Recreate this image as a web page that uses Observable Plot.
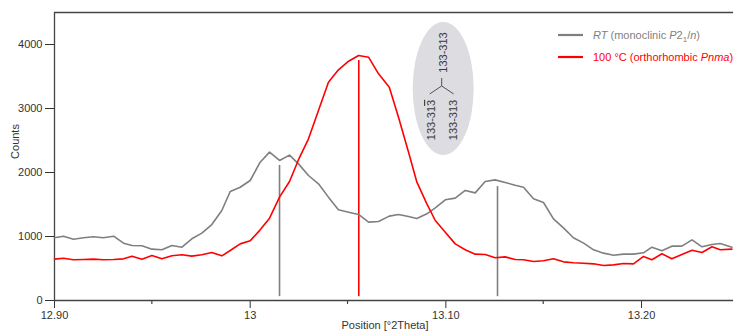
<!DOCTYPE html>
<html>
<head>
<meta charset="utf-8">
<script src="https://cdn.jsdelivr.net/npm/d3@7"></script>
<script src="https://cdn.jsdelivr.net/npm/@observablehq/plot@0.6"></script>
<style>
  html, body { margin: 0; padding: 0; background: #fff; }
</style>
</head>
<body>
<div id="chart"></div>
<script>
// Scan positions, °2θ
const position = [
  12.9000, 12.9046, 12.9097, 12.9148, 12.9199, 12.9250, 12.9302, 12.9353, 12.9396, 12.9447,
  12.9498, 12.9549, 12.9600, 12.9651, 12.9702, 12.9753, 12.9804, 12.9855, 12.9898, 12.9949,
  13.0000, 13.0051, 13.0099, 13.0150, 13.0201, 13.0247, 13.0298, 13.0349, 13.0400, 13.0451,
  13.0503, 13.0554, 13.0605, 13.0656, 13.0711, 13.0758, 13.0809, 13.0852, 13.0903, 13.0946,
  13.0997, 13.1048, 13.1099, 13.1150, 13.1201, 13.1252, 13.1303, 13.1354, 13.1397, 13.1448,
  13.1499, 13.1550, 13.1601, 13.1652, 13.1704, 13.1755, 13.1806, 13.1857, 13.1908, 13.1959,
  13.2010, 13.2053, 13.2104, 13.2155, 13.2206, 13.2258, 13.2309, 13.2360, 13.2402, 13.2462
];

// Counts at room temperature (monoclinic)
const countsRT = [
  980, 1005, 958, 980, 995, 980, 1005, 895, 860, 855,
  802, 792, 860, 833, 964, 1052, 1187, 1406, 1703, 1770,
  1875, 2161, 2318, 2188, 2271, 2135, 1953, 1823, 1615, 1417,
  1380, 1344, 1224, 1234, 1318, 1344, 1313, 1281, 1354, 1448,
  1573, 1599, 1719, 1682, 1859, 1885, 1844, 1802, 1771, 1589,
  1531, 1276, 1135, 980, 896, 792, 740, 708, 724, 724,
  745, 833, 776, 849, 849, 948, 839, 875, 891, 833
];

// Counts at 100 °C (orthorhombic)
const counts100 = [
  646, 661, 636, 641, 646, 636, 641, 651, 693, 646,
  703, 651, 698, 714, 693, 714, 750, 698, 781, 885,
  932, 1104, 1286, 1615, 1859, 2200, 2526, 2969, 3411, 3604,
  3739, 3828, 3802, 3542, 3333, 2864, 2320, 1849, 1510, 1250,
  1068, 885, 792, 724, 719, 667, 682, 641, 636, 609,
  620, 651, 604, 589, 583, 573, 547, 557, 578, 573,
  688, 636, 730, 651, 719, 786, 750, 839, 792, 802
];

// Reference reflection positions and heights
const stickRTPos = [13.0150, 13.1264];
const stickRTTop = [2110, 1780];
const stick100Pos = [13.0555];
const stick100Top = [3750];
const stickBase = 60;

// Reflection labels in the annotation
const reflectionTop = "133-313";
const reflectionLeft = ["133-31", "3"]; // last digit carries an overbar
const reflectionRight = "133-313";

// Axes
const yTicks = [0, 1000, 2000, 3000, 4000];
const xTicks = [12.90, 13.00, 13.10, 13.20];
const xTickLabels = ["12.90", "13", "13.10", "13.20"];
const xMinorTicks = [12.95, 13.05, 13.15];
const xLabel = "Position [°2Theta]";
const yLabel = "Counts";

// Legend entries: [text, style] parts
const legendRT = [["RT", "i"], [" (monoclinic ", ""], ["P", "i"], ["2", ""], ["1", "sub"], ["/", ""], ["n", "i"], [")", ""]];
const legend100 = [["100 °C (orthorhombic ", ""], ["Pnma", "i"], [")", ""]];

const gray = "#7f7f7f";
const red = "#ff0000";
const axisColor = "#444";

const rows = position.map((p, i) => ({p, rt: countsRT[i], ht: counts100[i]}));
const sticksRT = stickRTPos.map((p, i) => ({p, top: stickRTTop[i]}));
const sticks100 = stick100Pos.map((p, i) => ({p, top: stick100Top[i]}));

function minorTicks(index, {x, y}) {
  const g = d3.create("svg:g").attr("stroke", axisColor).attr("stroke-width", 1.2);
  for (const t of xMinorTicks) {
    g.append("line").attr("x1", x(t)).attr("x2", x(t)).attr("y1", y(0)).attr("y2", y(0) + 4);
  }
  return g.node();
}

function addParts(text, parts) {
  let shifted = 0;
  for (const [s, kind] of parts) {
    const ts = text.append("tspan").text(s);
    if (kind === "i") ts.attr("font-style", "italic");
    if (kind === "sub") {
      ts.attr("font-size", "8px").attr("dy", 3);
      shifted = 3;
    } else if (shifted) {
      ts.attr("dy", -shifted);
      shifted = 0;
    }
  }
}

function legend() {
  const g = d3.create("svg:g")
    .attr("font-family", "'Liberation Sans', Arial, sans-serif")
    .attr("font-size", "11px")
    .attr("text-anchor", "start");
  const entries = [[legendRT, gray, 35], [legend100, red, 57]];
  for (const [parts, color, yy] of entries) {
    g.append("line").attr("x1", 558).attr("x2", 583).attr("y1", yy).attr("y2", yy)
      .attr("stroke", color).attr("stroke-width", 2.2);
    const t = g.append("text").attr("x", 593).attr("y", yy + 4).attr("fill", color);
    addParts(t, parts);
  }
  return g.node();
}

function reflectionNote(index, {x, y}) {
  const cx = x(13.0989), cy = y(3305);
  const g = d3.create("svg:g")
    .attr("font-family", "'Liberation Sans', Arial, sans-serif")
    .attr("font-size", "11px");
  g.append("ellipse").attr("cx", cx).attr("cy", cy).attr("rx", 30.5).attr("ry", 66.5)
    .attr("fill", "#dcdce1");
  const lines = g.append("g").attr("stroke", "#555").attr("stroke-width", 1).attr("fill", "none");
  lines.append("path").attr("d",
    `M${cx - 1.5},${cy - 10.5}V${cy - 2.5}M${cx - 13.5},${cy + 5.5}L${cx - 1.5},${cy - 2.5}L${cx + 10.5},${cy + 5.5}`);
  const label = (dx, dy) => g.append("text")
    .attr("transform", `translate(${cx + dx},${cy + dy}) rotate(-90)`)
    .attr("text-anchor", "middle").attr("dy", "0.35em").attr("fill", "#3a3a3a");
  label(0, -36).text(reflectionTop);
  const left = label(-12, 31.5);
  left.append("tspan").text(reflectionLeft[0]);
  left.append("tspan").style("text-decoration", "overline").text(reflectionLeft[1]);
  label(10, 31.5).text(reflectionRight);
  return g.node();
}

const chart = Plot.plot({
  width: 733,
  height: 331,
  marginLeft: 54,
  marginRight: 0,
  marginTop: 12,
  marginBottom: 31,
  style: {
    fontFamily: "'Liberation Sans', Arial, sans-serif",
    fontSize: "11px",
    color: "#333",
    background: "#fff"
  },
  x: {
    domain: [12.9, 13.247],
    ticks: xTicks,
    tickFormat: d => xTickLabels[xTicks.findIndex(t => Math.abs(t - d) < 1e-9)],
    tickSize: 8,
    tickPadding: 3,
    label: null
  },
  y: {
    domain: [0, 4500],
    ticks: yTicks,
    tickFormat: d => String(d),
    tickSize: 9,
    tickPadding: 3,
    label: null
  },
  marks: [
    reflectionNote,
    Plot.ruleY([0], {stroke: axisColor, strokeWidth: 1.3}),
    Plot.ruleY([4500], {stroke: axisColor, strokeWidth: 1.3}),
    Plot.ruleX([12.9], {stroke: axisColor, strokeWidth: 1.3}),
    minorTicks,
    Plot.ruleX(sticksRT, {x: "p", y1: stickBase, y2: "top", stroke: gray, strokeWidth: 1.6}),
    Plot.ruleX(sticks100, {x: "p", y1: stickBase, y2: "top", stroke: red, strokeWidth: 1.6}),
    Plot.line(rows, {x: "p", y: "rt", stroke: gray, strokeWidth: 1.6}),
    Plot.line(rows, {x: "p", y: "ht", stroke: red, strokeWidth: 1.6}),
    Plot.text([yLabel], {frameAnchor: "top-left", dx: -39, dy: 129, rotate: -90, textAnchor: "middle", lineAnchor: "middle", fill: "#333"}),
    Plot.text([xLabel], {frameAnchor: "bottom", dx: -9, dy: 25, textAnchor: "middle", lineAnchor: "middle", fill: "#333"}),
    legend
  ]
});

document.getElementById("chart").appendChild(chart);
</script>
</body>
</html>
